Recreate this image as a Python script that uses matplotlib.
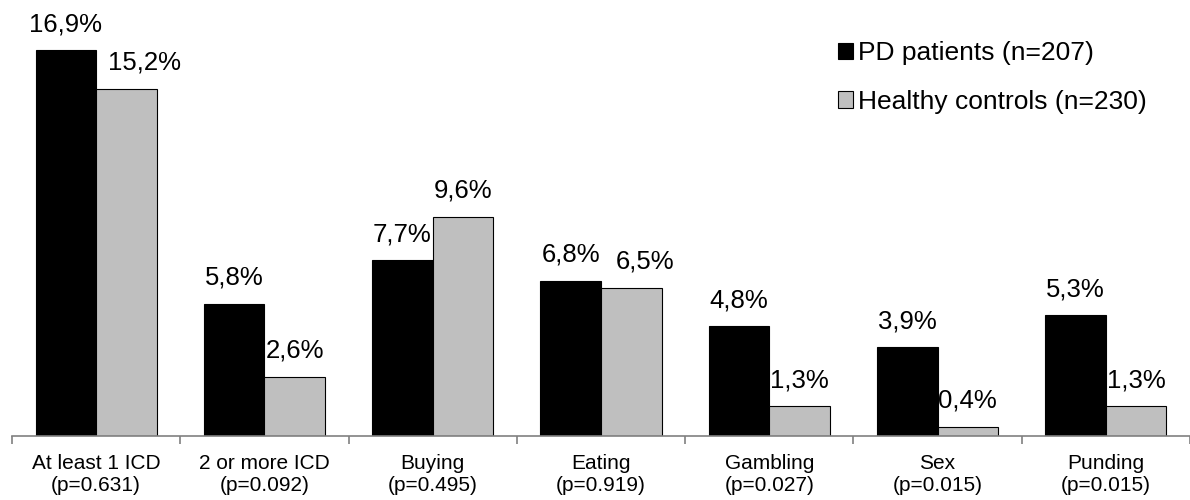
import numpy as np
import matplotlib.pyplot as plt

plt.rcParams['font.family'] = ['Liberation Sans', 'DejaVu Sans']

categories = ['At least 1 ICD', '2 or more ICD', 'Buying', 'Eating',
              'Gambling', 'Sex', 'Punding']
pvalues = ['0.631', '0.092', '0.495', '0.919', '0.027', '0.015', '0.015']
pd_patients = [16.9, 5.8, 7.7, 6.8, 4.8, 3.9, 5.3]
controls = [15.2, 2.6, 9.6, 6.5, 1.3, 0.4, 1.3]

# sideways nudge (points) for control labels that sit next to a taller bar
control_nudge = [13, 0, 0, 10, 0, 0, 0]

fig = plt.figure(figsize=(11.9, 5), dpi=100)
ax = fig.add_axes([12 / 1190, 64 / 500, 1178 / 1190, 426 / 500])

x = np.arange(len(categories))
w = 0.36
b1 = ax.bar(x - w / 2, pd_patients, w, color='black', edgecolor='black',
            linewidth=0.8, label='PD patients (n=207)')
b2 = ax.bar(x + w / 2, controls, w, color='#bfbfbf', edgecolor='black',
            linewidth=0.8, label='Healthy controls (n=230)')

for bars, nudges in ((b1, [0] * len(categories)), (b2, control_nudge)):
    for r, dx in zip(bars, nudges):
        v = r.get_height()
        ax.annotate(f'{v:.1f}%'.replace('.', ','), (r.get_x() + r.get_width() / 2, v),
                    xytext=(dx, 10), textcoords='offset points',
                    ha='center', va='bottom', fontsize=18.5)

ax.set_xlim(-0.5, len(categories) - 0.5)
ax.set_ylim(0, 18.65)
ax.set_yticks([])
for s in ['top', 'right', 'left']:
    ax.spines[s].set_visible(False)
ax.spines['bottom'].set_color('#808080')
ax.spines['bottom'].set_linewidth(1.2)

ax.set_xticks(np.arange(len(categories) + 1) - 0.5)
ax.set_xticklabels([])
ax.tick_params(axis='x', which='major', direction='out', length=6,
               color='#808080', width=1.2)
ax.set_xticks(x, minor=True)
ax.set_xticklabels([f'{c}\n(p={p})' for c, p in zip(categories, pvalues)],
                   minor=True, fontsize=15, linespacing=1.2)
ax.tick_params(axis='x', which='minor', length=0, pad=13)

fig.legend(handles=[b1, b2], loc='upper left', bbox_to_anchor=(838 / 1190, 0.918),
           frameon=False, fontsize=19, handlelength=0.57, handleheight=0.57,
           handletextpad=0.2, labelspacing=0.94, borderpad=0, borderaxespad=0)

fig.savefig('out.png', dpi=100)
